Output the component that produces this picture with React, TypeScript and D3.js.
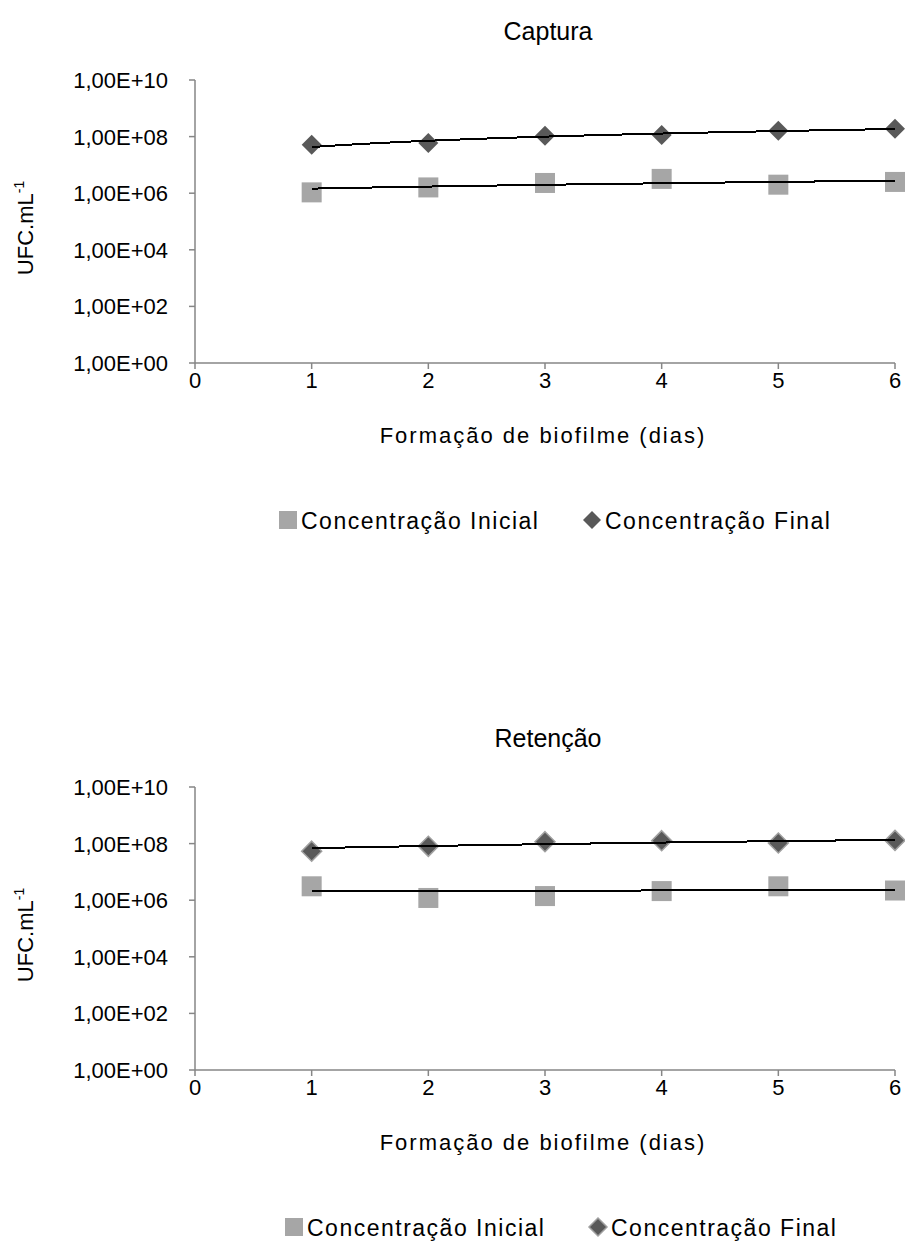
import React from "react";
import * as d3 from "d3";

const days = [1, 2, 3, 4, 5, 6];
const xTicks = [0, 1, 2, 3, 4, 5, 6];
const yTicks = [1, 1e2, 1e4, 1e6, 1e8, 1e10];
const yTickLabels = ["1,00E+00", "1,00E+02", "1,00E+04", "1,00E+06", "1,00E+08", "1,00E+10"];

const capturaInicial = [1.07e6, 1.6e6, 2.3e6, 3.2e6, 2.0e6, 2.5e6];
const capturaFinal = [5.2e7, 6.0e7, 1.07e8, 1.15e8, 1.6e8, 1.9e8];
const retencaoInicial = [3.1e6, 1.2e6, 1.4e6, 2.1e6, 3.1e6, 2.2e6];
const retencaoFinal = [5.4e7, 8.0e7, 1.17e8, 1.27e8, 1.05e8, 1.3e8];

const titles = ["Captura", "Retenção"];
const xTitle = "Formação de biofilme (dias)";
const legendLabels = ["Concentração Inicial", "Concentração Final"];

const FONT = "'Liberation Sans', Arial, sans-serif";
const AXIS = "#868686";
const SQ = "#A6A6A6";
const DM = "#595959";

function linFit(xs: number[], ys: number[]) {
  const mx = d3.mean(xs)!;
  const my = d3.mean(ys)!;
  let num = 0, den = 0;
  xs.forEach((x, i) => { num += (x - mx) * (ys[i] - my); den += (x - mx) * (x - mx); });
  const b = num / den;
  const a = my - b * mx;
  return (x: number) => a + b * x;
}

function Panel({ top, title, inicial, final, outlined, legendX }: any) {
  const x = d3.scaleLinear().domain([0, 6]).range([195, 895]);
  const y = d3.scaleLog().domain([1, 1e10]).range([top + 283, top]);
  const sample = d3.range(1, 6.0001, 0.02);
  const mkPath = (vals: number[]) => {
    const f = linFit(days, vals);
    return d3.line<number>().x((d) => x(d)).y((d) => y(f(d)))(sample) as string;
  };
  const diamond = (cx: number, cy: number, r: number) =>
    `M${cx},${cy - r}L${cx + r},${cy}L${cx},${cy + r}L${cx - r},${cy}Z`;
  const bottom = top + 283;
  return (
    <g fontFamily={FONT} fill="#000">
      <text x={548} y={top - 40} fontSize={25} textAnchor="middle">{title}</text>
      <line x1={195} x2={195} y1={top} y2={bottom} stroke={AXIS} strokeWidth={1.5} />
      <line x1={195} x2={895} y1={bottom} y2={bottom} stroke={AXIS} strokeWidth={1.5} />
      {yTicks.map((t, i) => (
        <g key={t}>
          <line x1={189} x2={195} y1={y(t)} y2={y(t)} stroke={AXIS} strokeWidth={1.5} />
          <text x={168} y={y(t) + 8} fontSize={22} textAnchor="end">{yTickLabels[i]}</text>
        </g>
      ))}
      {xTicks.map((t) => (
        <g key={t}>
          <line x1={x(t)} x2={x(t)} y1={bottom} y2={bottom + 6} stroke={AXIS} strokeWidth={1.5} />
          <text x={x(t)} y={bottom + 25} fontSize={22} textAnchor="middle">{t}</text>
        </g>
      ))}
      <text x={543} y={bottom + 80} fontSize={22} textAnchor="middle" letterSpacing={2}>{xTitle}</text>
      <text transform={`translate(33,${top + 148}) rotate(-90)`} fontSize={22} textAnchor="middle">
        UFC.mL<tspan fontSize={14} dy={-9}>-1</tspan>
      </text>
      {days.map((d, i) => (
        <rect key={"s" + d} x={x(d) - 10} y={y(inicial[i]) - 10} width={20} height={20} fill={SQ} />
      ))}
      {days.map((d, i) => (
        <path key={"d" + d} d={diamond(x(d), y(final[i]), 10)} fill={DM}
          stroke={outlined ? "#A0A0A0" : "none"} strokeWidth={outlined ? 1.5 : 0} />
      ))}
      <path d={mkPath(inicial)} fill="none" stroke="#000" strokeWidth={2} shapeRendering="crispEdges" />
      <path d={mkPath(final)} fill="none" stroke="#000" strokeWidth={2} shapeRendering="crispEdges" />
      <rect x={legendX[0]} y={bottom + 148} width={18} height={18} fill={SQ} />
      <text x={legendX[0] + 22} y={bottom + 166} fontSize={23} letterSpacing={1.5}>{legendLabels[0]}</text>
      <path d={diamond(legendX[1] + 9, bottom + 157, 9)} fill={DM}
        stroke={outlined ? "#A0A0A0" : "none"} strokeWidth={outlined ? 1.5 : 0} />
      <text x={legendX[1] + 22} y={bottom + 166} fontSize={23} letterSpacing={1.5}>{legendLabels[1]}</text>
    </g>
  );
}

export default function App() {
  return (
    <svg width={905} height={1248} style={{ position: "absolute", left: 0, top: 0, display: "block" }}>
      <rect width={905} height={1248} fill="#fff" />
      <Panel top={80} title={titles[0]} inicial={capturaInicial} final={capturaFinal} outlined={false} legendX={[279, 583]} />
      <Panel top={787} title={titles[1]} inicial={retencaoInicial} final={retencaoFinal} outlined={true} legendX={[285, 589]} />
    </svg>
  );
}
